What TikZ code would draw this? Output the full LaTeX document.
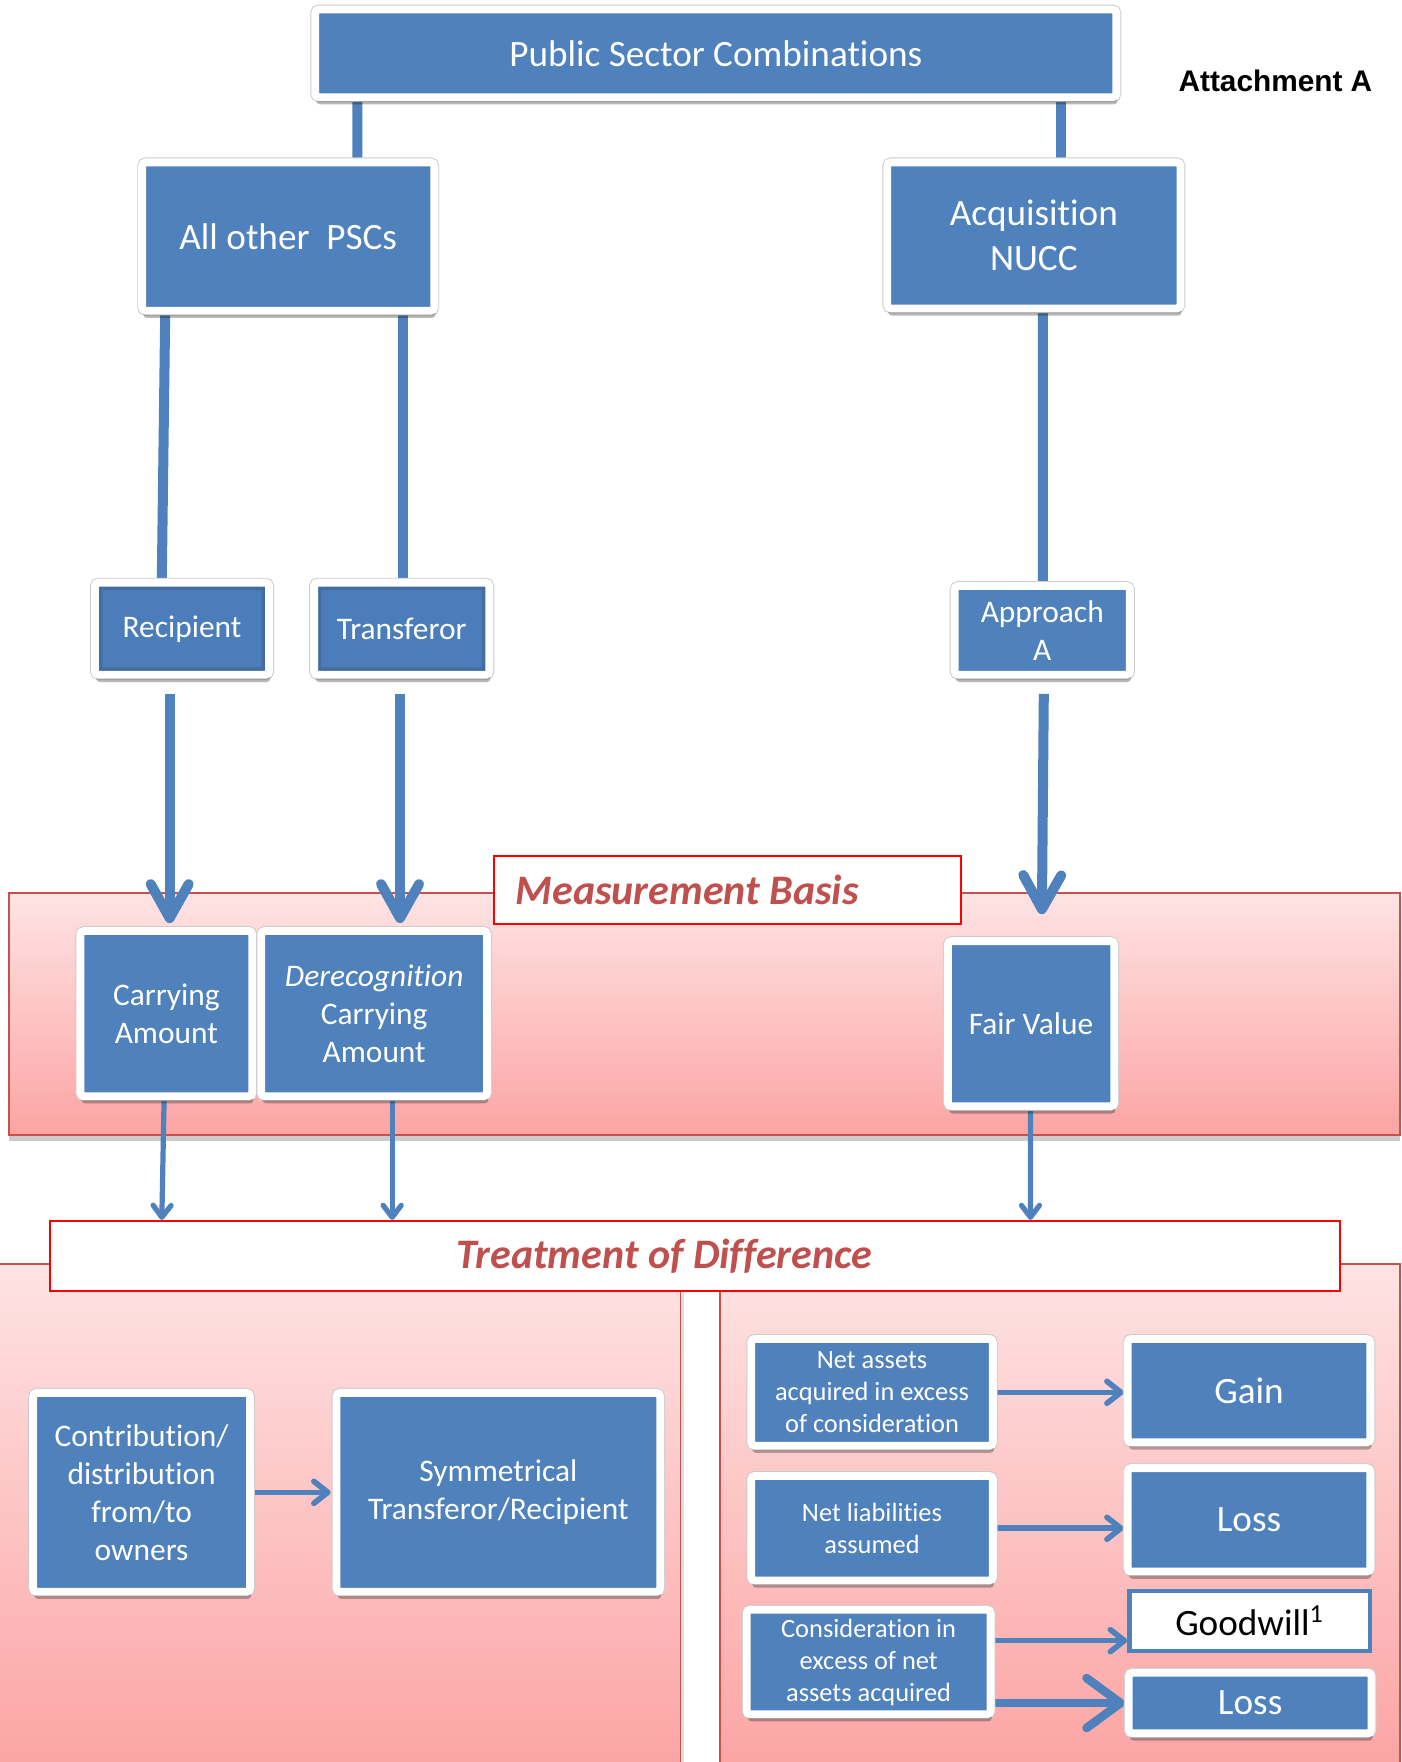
\documentclass[tikz,border=0pt]{standalone}
\usepackage{fontspec}
\setmainfont{Carlito}[Ligatures={NoCommon}]
\newfontfamily\attfont{Liberation Sans}
\usetikzlibrary{arrows.meta,shadows}
\pgfdeclarelayer{back}
\pgfdeclarelayer{mid}
\pgfsetlayers{back,mid,main}
\definecolor{psblue}{HTML}{4F81BD}
\definecolor{bevelblue}{HTML}{426CA2}
\definecolor{recblue}{HTML}{4A7DBA}
\definecolor{titlered}{HTML}{C0504D}
\definecolor{bandred}{HTML}{C9504D}
\definecolor{pinktop}{HTML}{FEE3E3}
\definecolor{pinkbot}{HTML}{FCA4A4}
\newcommand\pxu{0.561745pt}
\newcommand\mkbox[7]{%
  \pgfmathsetmacro\mbcx{(#2+#4)/2}%
  \pgfmathsetmacro\mbcy{(#3+#5)/2}%
  \pgfmathsetmacro\mbw{(#4-#2)*0.561745}%
  \pgfmathsetmacro\mbh{(#5-#3)*0.561745}%
  \node[#6, minimum width=\mbw pt, minimum height=\mbh pt] (#1) at (\mbcx,\mbcy) {#7};%
}
\tikzset{
  fbig/.style={font=\fontsize{18.6}{22.5}\selectfont},
  fmed/.style={font=\fontsize{15.7}{19}\selectfont},
  fsmall/.style={font=\fontsize{13.2}{16}\selectfont},
  bluebox/.style={fill=psblue, draw=white, line width=3.93pt, rounded corners=1.8pt,
    text=white, align=center, inner sep=0pt,
    preaction={draw=black!20, line width=4.9pt},
    drop shadow={shadow xshift=0.6pt, shadow yshift=-3.6pt, opacity=0.28, fill=black}},
  bevelbox/.style={bluebox, fill=recblue,
    path picture={\draw[line width=7.4pt, draw=bevelblue]
      (path picture bounding box.south west) rectangle (path picture bounding box.north east);}},
  gwbox/.style={fill=white, draw=psblue, line width=2.2pt, text=black, align=center, inner sep=0pt},
  redlabel/.style={fill=white, draw=red, line width=1pt, inner sep=0pt},
  lbltext/.style={font=\fontsize{21}{25}\selectfont\bfseries\itshape, text=titlered},
  band/.style={draw=bandred, line width=0.9pt, top color=pinktop, bottom color=pinkbot},
  conn/.style={draw=psblue, line width=5pt},
  bigarr/.style={conn, -{Straight Barb[length=17pt,width=19pt,round]}},
  thinarr/.style={draw=psblue, line width=2.6pt, -{Straight Barb[length=6pt,width=9pt,round]}},
  medarr/.style={draw=psblue, line width=2.8pt, -{Straight Barb[length=7pt,width=11pt,round]}},
  hugearr/.style={draw=psblue, line width=4.3pt, -{Straight Barb[length=17pt,width=25pt,round]}},
}
\begin{document}
\begin{tikzpicture}[x=0.561745pt,y=-0.561745pt]
\useasboundingbox (0,0) rectangle (1247,1568);
\begin{pgfonlayer}{back}
  \fill[white] (0,0) rectangle (1247,1568);
  \path[band, drop shadow={shadow xshift=0pt, shadow yshift=-3pt, opacity=0.2, fill=black}] (8,795) rectangle (1246,1010);
  \path[band, drop shadow={shadow xshift=2pt, shadow yshift=0pt, opacity=0.12, fill=black}] (-5,1125) rectangle (605.5,1575);
  \path[band] (640.5,1125) rectangle (1245.5,1575);
\end{pgfonlayer}

% label boxes
\mkbox{meas}{439.5}{761.5}{855.5}{822.5}{redlabel, label={[lbltext, xshift=-20.2pt]center:Measurement Basis}}{}
\mkbox{treat}{44.5}{1086.5}{1192.5}{1148.5}{redlabel, label={[lbltext, xshift=-15.4pt]center:Treatment of Difference}}{}

% boxes
\mkbox{top}{280.5}{8.5}{993.5}{86.5}{bluebox,fbig}{Public Sector Combinations}
\mkbox{allother}{126.5}{144.5}{386.5}{276.5}{bluebox,fbig}{All other\ \ PSCs}
\mkbox{acq}{789.5}{144.5}{1050.5}{274.5}{bluebox,fbig}{Acquisition\\NUCC}
\mkbox{recip}{84.5}{518.5}{239.5}{600.5}{bevelbox,fmed}{Recipient}
\mkbox{transf}{279.5}{518.5}{435.5}{600.5}{bevelbox,fmed}{Transferor}
\mkbox{appA}{849.5}{521.5}{1005.5}{600.5}{bluebox,fmed}{Approach\\A}
\mkbox{carry}{71.5}{828.5}{224.5}{975.5}{bluebox,fmed}{Carrying\\Amount}
\mkbox{derec}{232.5}{828.5}{433.5}{975.5}{bluebox,fmed}{\textit{Derecognition}\\Carrying\\Amount}
\mkbox{fair}{843.5}{837.5}{991.5}{984.5}{bluebox,fmed}{Fair Value}
\mkbox{contrib}{29.5}{1239.5}{222.5}{1416.5}{bluebox,fmed}{Contribution/\\distribution\\from/to\\owners}
\mkbox{symm}{299.5}{1239.5}{587.5}{1416.5}{bluebox,fmed}{Symmetrical\\Transferor/Recipient}
\mkbox{netassets}{668.5}{1191.5}{883.5}{1286.5}{bluebox,fsmall}{Net assets\\acquired in excess\\of consideration}
\mkbox{gain}{1003.5}{1191.5}{1219.5}{1283.5}{bluebox,fbig}{Gain}
\mkbox{netliab}{668.5}{1313.5}{883.5}{1406.5}{bluebox,fsmall}{Net liabilities\\assumed}
\mkbox{loss1}{1003.5}{1306.5}{1219.5}{1398.5}{bluebox,fbig}{Loss}
\mkbox{goodwill}{1005}{1416}{1219}{1469}{gwbox,fbig}{Goodwill\textsuperscript{1}}
\mkbox{consid}{664.5}{1432.5}{881.5}{1525.5}{bluebox,fsmall}{Consideration in\\excess of net\\assets acquired}
\mkbox{loss2}{1004.5}{1488.5}{1220.5}{1542.5}{bluebox,fbig}{Loss}

\node[font=\attfont\bfseries\fontsize{14.9}{18}\selectfont, inner sep=0pt] (att) at (1135,72) {Attachment A};

\coordinate (gwstart) at ([yshift=19*\pxu]consid.east);
\begin{pgfonlayer}{mid}
  \draw[conn] ([xshift=-319*\pxu]top.south) -- ([xshift=61.5*\pxu]allother.north);
  \draw[conn] ([xshift=307*\pxu]top.south) -- ([xshift=24*\pxu]acq.north);
  \draw[conn] ([xshift=-109.5*\pxu]allother.south) -- ([xshift=-18*\pxu]recip.north);
  \draw[conn] ([xshift=102.5*\pxu]allother.south) -- ([xshift=1.5*\pxu]transf.north);
  \draw[conn] ([xshift=8*\pxu]acq.south) -- ([xshift=0.5*\pxu]appA.north);
  \draw[bigarr, shorten <=7.6pt, shorten >=2pt] ([xshift=-11*\pxu]recip.south) -- ([xshift=3*\pxu]carry.north);
  \draw[bigarr, shorten <=7.6pt, shorten >=2pt] ([xshift=-1.5*\pxu]transf.south) -- ([xshift=23*\pxu]derec.north);
  \draw[bigarr, shorten <=7.6pt, shorten >=11.5pt] ([xshift=1.5*\pxu]appA.south) -- ([xshift=9.5*\pxu]fair.north);
  \draw[thinarr] ([xshift=-2*\pxu]carry.south) -- ([xshift=-474.5*\pxu]treat.north);
  \draw[thinarr] ([xshift=16*\pxu]derec.south) -- ([xshift=-269.5*\pxu]treat.north);
  \draw[thinarr] ([xshift=-0.5*\pxu]fair.south) -- ([xshift=298.5*\pxu]treat.north);
  \draw[medarr, shorten >=1pt] (contrib.east) -- (symm.west);
  \draw[medarr] (netassets.east) -- (gain.west |- netassets.east);
  \draw[medarr] (netliab.east) -- (loss1.west |- netliab.east);
  \draw[medarr] (gwstart) -- (goodwill.west |- gwstart);
  \draw[hugearr] (consid.east |- loss2.west) -- (loss2.west);
\end{pgfonlayer}
\end{tikzpicture}
\end{document}
